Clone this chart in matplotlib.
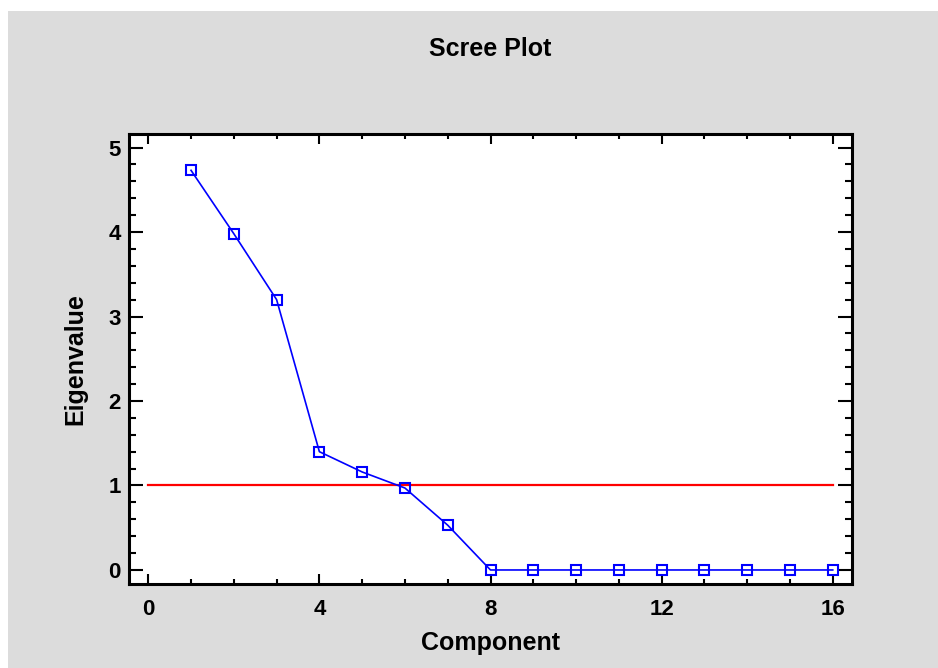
import matplotlib
matplotlib.use("Agg")
import matplotlib.pyplot as plt
from matplotlib.ticker import MultipleLocator
from matplotlib.patches import Rectangle

plt.rcParams['font.family'] = ['Liberation Sans', 'DejaVu Sans']
plt.rcParams['font.weight'] = 'bold'

# eigenvalues
components = [1, 2, 3, 4, 5, 6, 7, 8, 9, 10, 11, 12, 13, 14, 15, 16]
eigenvalues = [4.73, 3.98, 3.20, 1.40, 1.16, 0.97, 0.53, 0.0,
               0.0, 0.0, 0.0, 0.0, 0.0, 0.0, 0.0, 0.0]
cutoff_x = [0, 16]
cutoff_y = [1, 1]

fig = plt.figure(figsize=(9.38, 6.68), dpi=100)
fig.patch.set_facecolor('white')
fig.patches.append(Rectangle((8 / 938, 0), 1, (668 - 11) / 668,
                             transform=fig.transFigure, facecolor='#dcdcdc',
                             edgecolor='none', zorder=-10))

ax = fig.add_axes([129 / 938, 1 - 584 / 668, (852 - 129) / 938, (584 - 134) / 668])
ax.set_facecolor('white')

ax.plot(cutoff_x, cutoff_y, color='#ff0000', lw=1.6, zorder=2)
ax.plot(components, eigenvalues, color='#0000ff', lw=1.2, marker='s',
        markersize=6.5, markerfacecolor='none', markeredgecolor='#0000ff',
        markeredgewidth=1.5, zorder=3)

ax.set_xlim(-0.45, 16.45)
ax.set_ylim(-0.166, 5.16)
ax.xaxis.set_major_locator(MultipleLocator(4))
ax.xaxis.set_minor_locator(MultipleLocator(1))
ax.yaxis.set_major_locator(MultipleLocator(1))
ax.yaxis.set_minor_locator(MultipleLocator(0.2))

for s in ax.spines.values():
    s.set_linewidth(2.2)

ax.tick_params(axis='both', which='both', direction='in', top=True, right=True,
               width=1.5, labelsize=16)
ax.tick_params(axis='x', which='major', length=7, pad=11)
ax.tick_params(axis='x', which='minor', length=3.5)
ax.tick_params(axis='y', which='major', length=10, pad=6)
ax.tick_params(axis='y', which='minor', length=5)
for lab in ax.get_xticklabels() + ax.get_yticklabels():
    lab.set_fontweight('bold')

ax.set_xlabel('Component', fontsize=18, fontweight='bold', labelpad=8)
ax.set_ylabel('Eigenvalue', fontsize=18, fontweight='bold', labelpad=15)
fig.text((129 + 852) / 2 / 938, 1 - 49 / 668, 'Scree Plot', fontsize=18,
         fontweight='bold', ha='center', va='center')

fig.savefig('out.png', dpi=100, facecolor=fig.get_facecolor())
